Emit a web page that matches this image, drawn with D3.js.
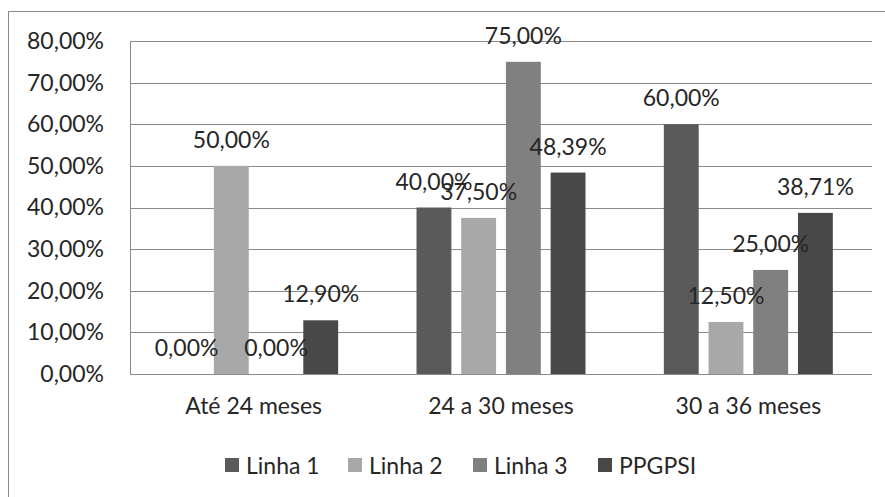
<!DOCTYPE html>
<html>
<head>
<meta charset="utf-8">
<script src="https://cdn.jsdelivr.net/npm/d3@7"></script>
<style>
  html, body { margin: 0; padding: 0; background: #fff; }
  svg text { font-family: Lato, "Open Sans", sans-serif; fill: #262626; }
</style>
</head>
<body>
<svg id="chart" width="885" height="497"></svg>
<script>
// Tempo de titulação por linha de pesquisa
const categories = ["Até 24 meses", "24 a 30 meses", "30 a 36 meses"];
const seriesNames = ["Linha 1", "Linha 2", "Linha 3", "PPGPSI"];
const linha1 = [0.00, 40.00, 60.00];
const linha2 = [50.00, 37.50, 12.50];
const linha3 = [0.00, 75.00, 25.00];
const ppgpsi = [12.90, 48.39, 38.71];
const yTicks = [0, 10, 20, 30, 40, 50, 60, 70, 80];
const seriesColors = ["#5a5a5a", "#a8a8a8", "#808080", "#484848"];

const seriesValues = [linha1, linha2, linha3, ppgpsi];
const fmt = v => v.toFixed(2).replace(".", ",") + "%";

const svg = d3.select("#chart");

// outer chart frame
svg.append("rect")
  .attr("x", 8.5).attr("y", 11.5)
  .attr("width", 900).attr("height", 520)
  .attr("fill", "none").attr("stroke", "#8c8c8c").attr("stroke-width", 1);

const plot = { left: 130, right: 872, top: 41, bottom: 374 };

const y = d3.scaleLinear().domain([0, 80]).range([plot.bottom, plot.top]);
const x0 = d3.scaleBand().domain(categories).range([plot.left, plot.right]).padding(0);
const groupWidth = 169;
const x1 = d3.scaleBand().domain(seriesNames)
  .range([(x0.bandwidth() - groupWidth) / 2, (x0.bandwidth() + groupWidth) / 2])
  .paddingInner(0.22).paddingOuter(0);
const color = d3.scaleOrdinal().domain(seriesNames).range(seriesColors);

// gridlines
svg.append("g")
  .selectAll("line").data(yTicks).join("line")
  .attr("x1", plot.left).attr("x2", plot.right)
  .attr("y1", d => Math.round(y(d)) + 0.5).attr("y2", d => Math.round(y(d)) + 0.5)
  .attr("stroke", "#8a8a8a").attr("stroke-width", 1);

// vertical axis line
svg.append("line")
  .attr("x1", plot.left + 0.5).attr("x2", plot.left + 0.5)
  .attr("y1", plot.top).attr("y2", plot.bottom + 1)
  .attr("stroke", "#8a8a8a");

// y axis labels
const yAxis = d3.axisLeft(y).tickValues(yTicks).tickSize(0).tickPadding(26)
  .tickFormat(d => fmt(d));
svg.append("g").attr("transform", `translate(${plot.left},0)`).call(yAxis)
  .call(g => g.select(".domain").remove())
  .selectAll("text")
  .attr("font-size", 23).attr("font-family", "Lato, sans-serif").attr("fill", "#262626");

// x axis labels
const xAxis = d3.axisBottom(x0).tickSize(0).tickPadding(24);
svg.append("g").attr("transform", `translate(0,${plot.bottom})`).call(xAxis)
  .call(g => g.select(".domain").remove())
  .selectAll("text")
  .attr("font-size", 23).attr("font-family", "Lato, sans-serif").attr("fill", "#262626");

// bars
const rows = [];
categories.forEach((c, ci) => seriesNames.forEach((s, si) => {
  rows.push({ cat: c, series: s, value: seriesValues[si][ci] });
}));

svg.append("g").selectAll("rect").data(rows).join("rect")
  .attr("x", d => x0(d.cat) + x1(d.series))
  .attr("y", d => y(d.value))
  .attr("width", x1.bandwidth())
  .attr("height", d => y(0) - y(d.value))
  .attr("fill", d => color(d.series));

// data labels
svg.append("g").selectAll("text").data(rows).join("text")
  .attr("x", d => x0(d.cat) + x1(d.series) + x1.bandwidth() / 2)
  .attr("y", d => y(d.value) - 18)
  .attr("text-anchor", "middle")
  .attr("font-size", 23)
  .text(d => fmt(d.value));

// legend
const legendX = [225, 348, 473, 598];
const legend = svg.append("g").selectAll("g").data(seriesNames).join("g")
  .attr("transform", (d, i) => `translate(${legendX[i]},458)`);
legend.append("rect").attr("width", 14).attr("height", 14).attr("fill", d => color(d));
legend.append("text").attr("x", 21).attr("y", 16).attr("font-size", 23).text(d => d);
</script>
</body>
</html>
